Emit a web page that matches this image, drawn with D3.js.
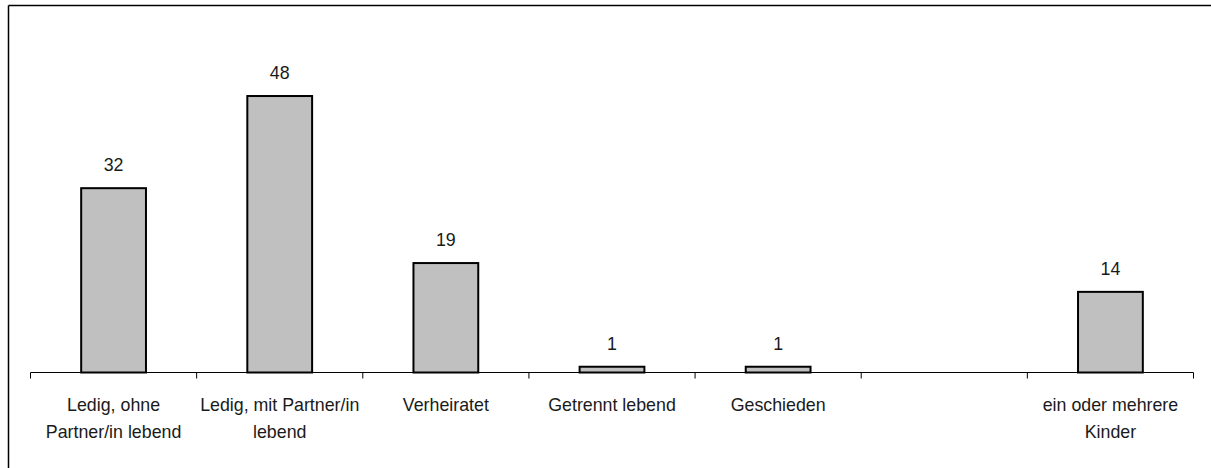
<!DOCTYPE html>
<html><head><meta charset="utf-8">
<script src="https://cdn.jsdelivr.net/npm/d3@7"></script>
<style>body{margin:0;background:#fff}svg{display:block}</style>
</head><body>
<svg id="c" width="1211" height="468"></svg>
<script>
const categories = ["Ledig, ohne\nPartner/in lebend", "Ledig, mit Partner/in\nlebend", "Verheiratet", "Getrennt lebend", "Geschieden", "", "ein oder mehrere\nKinder"];
const values = [32, 48, 19, 1, 1, null, 14];
const yDomain = [0, 50];

const svg = d3.select("#c");
const font = "'Liberation Sans', Arial, sans-serif";
const axisY = 372.5;
const sy = 1.07;
const x = d3.scaleBand().domain(d3.range(categories.length)).range([30.5, 1193.5]).padding(0);
const y = d3.scaleLinear().domain(yDomain).range([axisY, 84.5]);

// frame (top and left)
svg.append("line").attr("x1", 8.5).attr("x2", 1211).attr("y1", 5.5).attr("y2", 5.5).attr("stroke", "#000").attr("stroke-width", 1.5);
svg.append("line").attr("x1", 8.5).attr("x2", 8.5).attr("y1", 5.5).attr("y2", 468).attr("stroke", "#000").attr("stroke-width", 1.5);

const bw = x.bandwidth() * 0.39;
const data = categories.map((c, i) => ({c, i, v: values[i]}));

svg.append("g").selectAll("rect").data(data.filter(d => d.v != null)).join("rect")
  .attr("x", d => x(d.i) + x.bandwidth() / 2 - bw / 2)
  .attr("width", bw)
  .attr("y", d => y(d.v))
  .attr("height", d => y(0) - y(d.v))
  .attr("fill", "#c0c0c0").attr("stroke", "#000").attr("stroke-width", 2);

svg.append("g").selectAll("text").data(data.filter(d => d.v != null)).join("text")
  .attr("text-anchor", "middle")
  .attr("transform", d => `translate(${x(d.i) + x.bandwidth() / 2},${y(d.v) - 17}) scale(1,${sy})`)
  .attr("font-family", font).attr("font-size", 17.8).attr("fill", "#1a1a1a")
  .text(d => d.v);

// axis
const axis = d3.axisBottom(x).tickSize(0).tickFormat("");
const g = svg.append("g").attr("transform", `translate(0,${axisY})`).call(axis);
g.select(".domain").attr("stroke", "#000").attr("stroke-width", 1.2).attr("d", `M${x.range()[0]},0H${x.range()[1]}`);
g.selectAll(".tick").remove();
const bounds = d3.range(categories.length + 1).map(i => i < categories.length ? x(i) : x.range()[1]);
g.selectAll("line.b").data(bounds).join("line").attr("class", "b")
  .attr("x1", d => d).attr("x2", d => d).attr("y1", 0).attr("y2", 6)
  .attr("stroke", "#000").attr("stroke-width", 1);

const lab = svg.append("g").selectAll("text").data(data).join("text")
  .attr("text-anchor", "middle")
  .attr("font-family", font).attr("font-size", 17.8).attr("fill", "#1a1a1a")
  .attr("transform", d => `translate(${x(d.i) + x.bandwidth() / 2},${axisY + 38.5}) scale(1,${sy})`);
lab.selectAll("tspan").data(d => d.c.split("\n")).join("tspan")
  .attr("x", 0).attr("y", (d, j) => j * 27 / sy).text(d => d);
</script>
</body></html>
